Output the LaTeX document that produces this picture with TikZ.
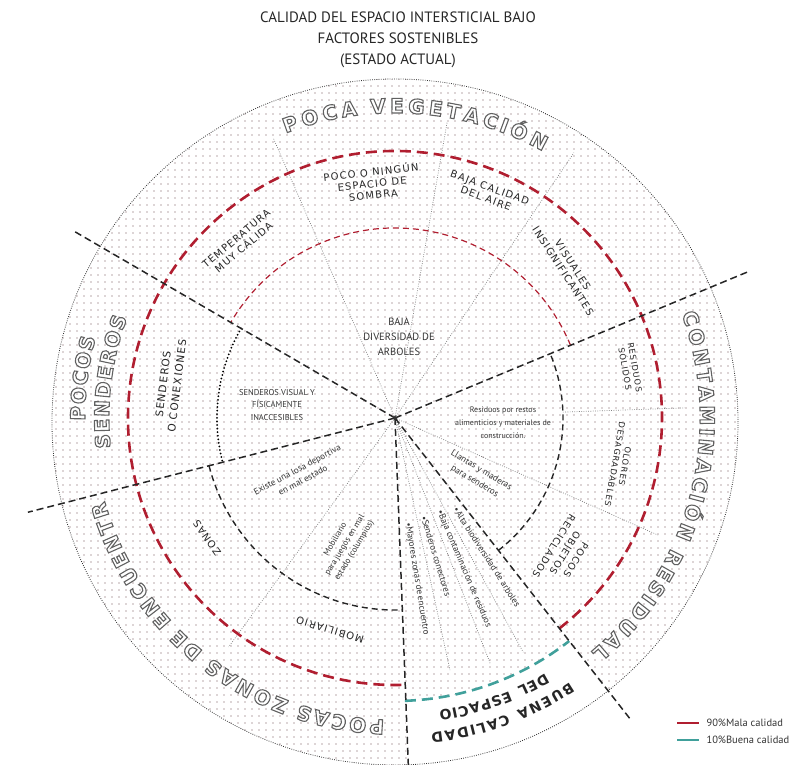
\documentclass[tikz,border=0pt]{standalone}
\usepackage{fontspec}
\setmainfont{PT Sans}
\newfontfamily\capsfont[LetterSpace=12]{DejaVu Sans}
\newfontfamily\ringfont{DejaVu Sans}
\usepackage{xcolor}
\usetikzlibrary{decorations.text,patterns.meta}

\definecolor{malared}{RGB}{176,30,48}
\definecolor{buenateal}{RGB}{64,160,155}
\definecolor{dotgray}{RGB}{186,170,173}

% outlined letter of the outer ring
\newcommand{\ringchar}[1]{{\ringfont\bfseries\fontsize{20}{20}\selectfont\color{black!45}%
  \special{pdf:literal direct q 2 Tr 1.1 w 0.38 0.38 0.38 RG 1 1 1 rg}#1\special{pdf:literal direct Q}}}
\newcommand{\buenafont}{\capsfont\bfseries\fontsize{14}{14}\selectfont}

\tikzset{
  rim/.style={black!80, line width=.8, dash pattern=on .8pt off 1.4pt},
  divider/.style={black!85, line width=1.5, dash pattern=on 7pt off 4pt},
  badarc/.style={malared, line width=2.6, dash pattern=on 11pt off 6pt},
  goodarc/.style={buenateal, line width=2.6, dash pattern=on 11pt off 6pt},
  thinred/.style={malared, line width=1.2, dash pattern=on 6pt off 4pt},
  innerarc/.style={black!85, line width=1.4, dash pattern=on 6pt off 4pt},
  dotarc/.style={black, line width=2, line cap=round, dash pattern=on 0pt off 3.6pt},
  seam/.style={black!50, line width=.7, dash pattern=on .8pt off 1.5pt},
  capslabel/.style={font=\capsfont\fontsize{10}{11.5}\selectfont, text=black!85, align=center, inner sep=0},
  smallcaps/.style={font=\capsfont\fontsize{8.3}{10}\selectfont, text=black!85, align=center, inner sep=0},
  smalllabel/.style={font=\fontsize{8.5}{12.5}\selectfont, text=black!80, align=center, inner sep=0},
  bullet/.style={font=\fontsize{9}{10}\selectfont, text=black!80, inner sep=0},
  ringword/.style={decorate, decoration={text effects along path, text={#1},
      text effects/.cd, text along path, fit text to path, character command=\ringchar}},
  plainring/.style={decorate, decoration={text along path, text={|\buenafont|#1},
      text color=black!85, text align={fit to path}}},
}

\begin{document}
\begin{tikzpicture}[x=1pt, y=1pt]
  \useasboundingbox (-395,-347) rectangle (408,418);

  % dotted disc
  \fill[pattern={Dots[distance=7pt, radius=.8pt]}, pattern color=dotgray] (0,-4) circle (343);
  \fill[white] (-88:283) arc[start angle=-88, end angle=-52, radius=283]
    -- (-52:350) arc[start angle=-52, end angle=-88, radius=350] -- cycle;
  \draw[rim] (0,-4) circle (343);

  \node[font=\fontsize{15}{21}\selectfont, text=black!85, align=center] (title) at (3,378)
    {CALIDAD DEL ESPACIO INTERSTICIAL BAJO\\FACTORES SOSTENIBLES\\(ESTADO ACTUAL)};

  \coordinate (hub) at (0,0);
  \coordinate (d1) at (149.8:374);
  \coordinate (d2) at (22.5:382);
  \coordinate (d3) at (194.4:379);
  \coordinate (d4) at (-87.8:350);
  \coordinate (d5) at (-52:385);

  % thin seams
  \foreach \a/\r in {113.5/305, 80/300, 56/320, -24/288, 234/283, -77.7/258, -68.8/263, -61.3/267}
    \draw[seam] (hub) -- (\a:\r);
  \draw[seam] (2:168) -- (2:290);

  % rings
  \draw[badarc] (-52:267) arc[start angle=-52, end angle=272, radius=267];
  \draw[goodarc] (-88:283) arc[start angle=-88, end angle=-52, radius=283];
  \draw[thinred] (22.5:190) arc[start angle=22.5, end angle=149.8, radius=190];
  \draw[dotarc] (149.8:178) arc[start angle=149.8, end angle=194.4, radius=178];
  \draw[innerarc] (194.4:192) arc[start angle=194.4, end angle=272.2, radius=192];
  \draw[innerarc] (-52:168) arc[start angle=-52, end angle=22.5, radius=168];

  % dividers
  \foreach \d in {d1,d2,d3,d4,d5}
    \draw[divider] (hub) -- (\d);
  \fill[black!80] (hub) circle (2);

  % outer ring words
  \path[ringword={POCA VEGETACIÓN}] (111:305) arc[start angle=111, end angle=61, radius=305];
  \path[ringword={CONTAMINACIÓN RESIDUAL}] (20:305) arc[start angle=20, end angle=-50, radius=305];
  \path[ringword={POCAS ZONAS DE ENCUENTR}] (268:302) arc[start angle=268, end angle=196, radius=302];
  \path[ringword={POCOS}] (180.5:310) arc[start angle=180.5, end angle=165, radius=310];
  \path[ringword={SENDEROS}] (186:286) arc[start angle=186, end angle=159.5, radius=286];
  \path[plainring={BUENA CALIDAD}] (-56.5:317) arc[start angle=-56.5, end angle=-83.5, radius=317];
  \path[plainring={DEL ESPACIO}] (-59.5:296) arc[start angle=-59.5, end angle=-81.5, radius=296];

  % sector labels
  \node[capslabel, rotate=6] (sombra) at (-23,235) {POCO O NINGÚN\\ESPACIO DE\\SOMBRA};
  \node[capslabel, rotate=-20] (aire) at (93,225) {BAJA CALIDAD\\DEL AIRE};
  \node[capslabel, rotate=40] (temp) at (-155,175) {TEMPERATURA\\MUY CÁLIDA};
  \node[capslabel, rotate=-57] (visual) at (173,150) {VISUALES\\INSIGNIFICANTES};
  \node[font=\fontsize{10.5}{15}\selectfont, text=black!80, align=center] (arbol) at (4,81)
    {BAJA\\DIVERSIDAD DE\\ARBOLES};
  \node[capslabel, font=\capsfont\fontsize{10.5}{14}\selectfont, rotate=83] (conex) at (-225,33)
    {SENDEROS\\O CONEXIONES};
  \node[smalllabel] (inacc) at (-118,13) {SENDEROS VISUAL Y\\FÍSICAMENTE\\INACCESIBLES};
  \node[smalllabel, font=\fontsize{8}{13}\selectfont] (resto) at (108,-5)
    {Residuos por restos\\alimenticios y materiales de\\construcción.};
  \node[smallcaps, rotate=-80] (solido) at (235,50) {RESIDUOS\\SÓLIDOS};
  \node[smallcaps, rotate=-100] (olor) at (225,-47) {OLORES\\DESAGRADABLES};
  \node[capslabel, font=\capsfont\fontsize{9.5}{13}\selectfont, rotate=-122] (recic) at (170,-135)
    {POCOS\\OBJETOS\\RECICLADOS};
  \node[smalllabel, font=\fontsize{9}{13}\selectfont, rotate=-31] (llanta) at (83,-58)
    {Llantas y maderas\\para senderos};
  \node[smalllabel, font=\fontsize{9}{12}\selectfont, rotate=28] (losa) at (-95,-57)
    {Existe una losa deportiva\\en mal estado};
  \node[smalllabel, font=\fontsize{8.5}{11}\selectfont, rotate=59] (juego) at (-50,-127)
    {Mobiliario\\para juegos en mal\\estado (columpios)};
  \node[capslabel, rotate=125] (zonas) at (-188,-120) {ZONAS};
  \node[capslabel, rotate=163] (mobil) at (-65,-212) {MOBILIARIO};

  % good points
  \node[bullet, rotate=-80.7] (b1) at (22,-161) {•Mayores zonas de encuentro};
  \node[bullet, rotate=-73] (b2) at (41,-138) {•Senderos conectores};
  \node[bullet, rotate=-67] (b3) at (69,-151) {•Baja contaminación de residuos};
  \node[bullet, rotate=-57.3] (b4) at (92,-139) {•Alta biodiversidad de arboles};

  % legend
  \coordinate (m1) at (282,-305);
  \coordinate (m2) at (304,-305);
  \coordinate (g1) at (282,-322);
  \coordinate (g2) at (304,-322);
  \draw[malared, line width=2.2] (m1) -- (m2);
  \draw[buenateal, line width=2.2] (g1) -- (g2);
  \node[font=\fontsize{10.5}{12}\selectfont, text=black!80, anchor=west] (mala) at (308,-305) {90\%Mala calidad};
  \node[font=\fontsize{10.5}{12}\selectfont, text=black!80, anchor=west] (buena) at (308,-322) {10\%Buena calidad};
\end{tikzpicture}
\end{document}
